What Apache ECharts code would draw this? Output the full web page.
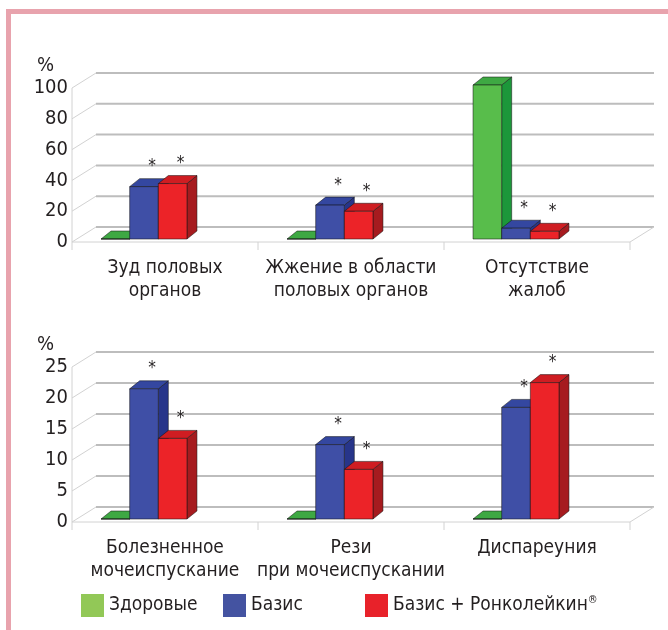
<!DOCTYPE html>
<html>
<head>
<meta charset="utf-8">
<script src="https://cdn.jsdelivr.net/npm/echarts@6/dist/echarts.min.js"></script>
<style>
  html, body { margin: 0; padding: 0; background: #ffffff; }
  #chart { width: 668px; height: 630px; }
</style>
</head>
<body>
<div id="chart"></div>
<script>
// ---- data ----
const topCategories = ['Зуд половых\nорганов', 'Жжение в области\nполовых органов', 'Отсутствие\nжалоб'];
const topHealthy = [0, 0, 100];
const topBasis = [34, 22, 7];
const topCombo = [36, 18, 5];
const topTicks = [0, 20, 40, 60, 80, 100];

const bottomCategories = ['Болезненное\nмочеиспускание', 'Рези\nпри мочеиспускании', 'Диспареуния'];
const bottomHealthy = [0, 0, 0];
const bottomBasis = [21, 12, 18];
const bottomCombo = [13, 8, 22];
const bottomTicks = [0, 5, 10, 15, 20, 25];

const seriesNames = ['Здоровые', 'Базис', 'Базис + Ронколейкин®'];
// significance marks (*) per series
const seriesStarred = [false, true, true];

// ---- styling ----
const FONT = '"DejaVu Sans Condensed", "Liberation Sans", sans-serif';
const TEXT = '#231f20';
const legendColors = ['#92c857', '#4453a1', '#e8222a'];
const facePalettes = [
  { front: '#58bd4b', top: '#3ea843', side: '#1c973a' },
  { front: '#3f4fa6', top: '#3447a0', side: '#27358a' },
  { front: '#ec2328', top: '#cf1d22', side: '#a61b1f' }
];
const DEPTH_X = 24, DEPTH_Y = -15;      // back wall offset
const BAR_DX = 10, BAR_DY = -8;         // bar depth
const BAR_FRAC = 0.154;                 // bar width / category width
const GROUP_SHIFT = 21;                 // bar group offset to the left of the category centre
const BAR_LIFT = 3;                     // bars stand slightly behind the floor front edge

function frameRenderer(ticks) {
  return function (params, api) {
    const cs = params.coordSys;
    const xL = cs.x, xR = cs.x + cs.width;
    const children = [];
    const grey = { stroke: '#bdbdbd', lineWidth: 2 };
    const light = { stroke: '#d2d2d2', lineWidth: 1 };
    ticks.forEach(function (t) {
      const y = api.coord([0, t])[1];
      children.push({ type: 'line', shape: { x1: xL + DEPTH_X, y1: y + DEPTH_Y, x2: xR + DEPTH_X, y2: y + DEPTH_Y }, style: grey });
      children.push({ type: 'line', shape: { x1: xL, y1: y, x2: xL + DEPTH_X, y2: y + DEPTH_Y }, style: light });
    });
    const y0 = api.coord([0, 0])[1];
    const yTop = api.coord([0, ticks[ticks.length - 1]])[1];
    children.push({ type: 'line', shape: { x1: xL, y1: yTop, x2: xL, y2: y0 + 8 }, style: light });
    children.push({ type: 'line', shape: { x1: xL, y1: y0, x2: xR, y2: y0 }, style: light });
    children.push({ type: 'line', shape: { x1: xR, y1: y0, x2: xR + DEPTH_X, y2: y0 + DEPTH_Y }, style: light });
    for (let i = 1; i <= 3; i++) {
      const x = xL + i * cs.width / 3;
      children.push({ type: 'line', shape: { x1: x, y1: y0, x2: x, y2: y0 + 8 }, style: light });
    }
    return { type: 'group', children: children, silent: true };
  };
}

function barRenderer(seriesIdx) {
  const pal = facePalettes[seriesIdx];
  return function (params, api) {
    const cat = api.value(0), v = api.value(1);
    const base = api.coord([cat, 0]);
    const top = api.coord([cat, v]);
    const catW = api.size([1, 0])[0];
    const w = catW * BAR_FRAC;
    const xl = base[0] - GROUP_SHIFT - 1.5 * w + seriesIdx * w;
    const xr = xl + w;
    const by = base[1] - BAR_LIFT;
    const ty = top[1] - BAR_LIFT;
    const edge = { stroke: 'rgba(20,20,20,0.75)', lineWidth: 0.7 };
    const children = [
      { type: 'polygon', shape: { points: [[xr, by], [xr + BAR_DX, by + BAR_DY], [xr + BAR_DX, ty + BAR_DY], [xr, ty]] },
        style: Object.assign({ fill: pal.side }, edge) },
      { type: 'polygon', shape: { points: [[xl, ty], [xl + BAR_DX, ty + BAR_DY], [xr + BAR_DX, ty + BAR_DY], [xr, ty]] },
        style: Object.assign({ fill: pal.top }, edge) },
      { type: 'rect', shape: { x: xl, y: ty, width: w, height: by - ty },
        style: Object.assign({ fill: pal.front }, edge) }
    ];
    if (seriesStarred[seriesIdx]) {
      children.push({ type: 'text', style: { text: '*', x: xl + w / 2 + 8, y: ty - 20,
        fontSize: 17, fontFamily: FONT, fill: TEXT, align: 'center', verticalAlign: 'middle' } });
    }
    return { type: 'group', children: children };
  };
}

function makeBarSeries(values, idx, gridIdx) {
  return {
    type: 'custom',
    name: seriesNames[idx],
    xAxisIndex: gridIdx, yAxisIndex: gridIdx,
    itemStyle: { color: legendColors[idx] },
    data: values.map(function (v, i) { return [i, v]; }),
    encode: { x: 0, y: 1 },
    renderItem: barRenderer(idx),
    z: 3
  };
}

function makeFrameSeries(ticks, gridIdx) {
  return {
    type: 'custom',
    name: 'frame' + gridIdx,
    xAxisIndex: gridIdx, yAxisIndex: gridIdx,
    data: [[0, 0]],
    encode: { x: 0, y: 1 },
    renderItem: frameRenderer(ticks),
    silent: true,
    z: 1
  };
}

function makeXAxis(cats, gridIdx) {
  return {
    type: 'category', gridIndex: gridIdx, data: cats,
    axisLine: { show: false }, axisTick: { show: false }, splitLine: { show: false },
    axisLabel: { interval: 0, fontSize: 19, lineHeight: 23, margin: 15, color: TEXT, fontFamily: FONT }
  };
}

function makeYAxis(ticks, gridIdx) {
  return {
    type: 'value', gridIndex: gridIdx,
    min: ticks[0], max: ticks[ticks.length - 1], interval: ticks[1] - ticks[0],
    name: '%', nameLocation: 'end', nameGap: 12,
    nameTextStyle: { fontSize: 20, color: TEXT, fontFamily: FONT, align: 'right', padding: [0, 18, 0, 0] },
    axisLine: { show: false }, axisTick: { show: false }, splitLine: { show: false },
    axisLabel: { fontSize: 20, margin: 4, color: TEXT, fontFamily: FONT }
  };
}

function makeLegend(idx, left) {
  return {
    data: [seriesNames[idx]], left: left, top: 594, padding: 0,
    icon: 'rect', itemWidth: 23, itemHeight: 23, itemGap: 0,
    selectedMode: false,
    formatter: function (n) { return n.replace('®', '{sup|®}'); },
    textStyle: { fontSize: 19, color: TEXT, fontFamily: FONT,
      rich: { sup: { fontSize: 11, fontFamily: FONT, color: TEXT, padding: [0, 0, 10, 0] } } }
  };
}

const chart = echarts.init(document.getElementById('chart'), null, { renderer: 'canvas' });
chart.setOption({
  backgroundColor: '#ffffff',
  animation: false,
  grid: [
    { left: 72, top: 88, width: 558, height: 154 },
    { left: 72, top: 367, width: 558, height: 155 }
  ],
  xAxis: [makeXAxis(topCategories, 0), makeXAxis(bottomCategories, 1)],
  yAxis: [makeYAxis(topTicks, 0), makeYAxis(bottomTicks, 1)],
  legend: [makeLegend(0, 81), makeLegend(1, 223), makeLegend(2, 365)],
  graphic: [
    { type: 'rect', shape: { x: 6, y: 9, width: 662, height: 5 }, style: { fill: '#e8a3ad' }, silent: true },
    { type: 'rect', shape: { x: 6, y: 9, width: 5, height: 621 }, style: { fill: '#e8a3ad' }, silent: true }
  ],
  series: [
    makeFrameSeries(topTicks, 0),
    makeFrameSeries(bottomTicks, 1),
    makeBarSeries(topHealthy, 0, 0),
    makeBarSeries(topBasis, 1, 0),
    makeBarSeries(topCombo, 2, 0),
    makeBarSeries(bottomHealthy, 0, 1),
    makeBarSeries(bottomBasis, 1, 1),
    makeBarSeries(bottomCombo, 2, 1)
  ]
});
</script>
</body>
</html>
